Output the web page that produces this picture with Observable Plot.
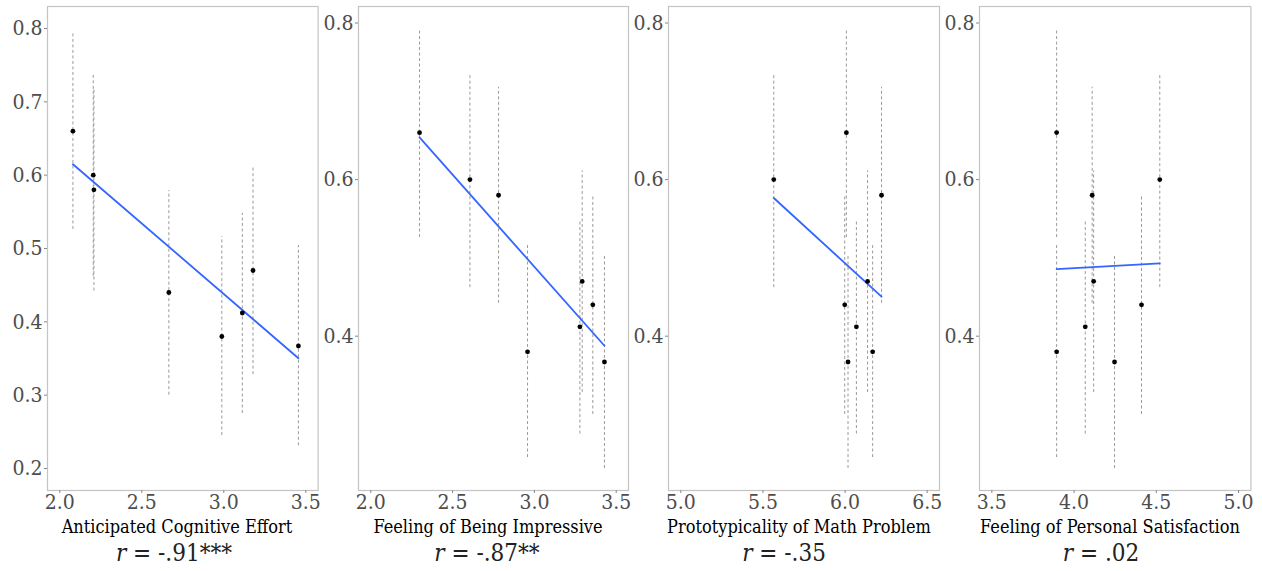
<!DOCTYPE html>
<html>
<head>
<meta charset="utf-8">
<script src="https://cdn.jsdelivr.net/npm/d3@7"></script>
<script src="https://cdn.jsdelivr.net/npm/@observablehq/plot@0.6"></script>
<style>
  html, body { margin: 0; padding: 0; background: #fff; }
  #chart { position: relative; width: 1263px; height: 571px; overflow: hidden; }
  #chart svg { position: absolute; top: 0; overflow: visible; }
  .serif { font-family: "DejaVu Serif Condensed", "DejaVu Serif", serif; font-stretch: condensed; }
  .xtitle { position: absolute; top: 515px; font-size: 18px; color: #000; white-space: nowrap; transform: translateX(-50%); line-height: 24px; }
  .rlab { position: absolute; top: 538px; font-size: 24px; color: #222; white-space: nowrap; transform: translateX(-50%); line-height: 30px; }
</style>
</head>
<body>
<div id="chart"></div>
<script>
// Eight conditions: mean and interval (same in every panel)
const yMean = [0.66, 0.60, 0.58, 0.44, 0.38, 0.412, 0.47, 0.367];
const yLow  = [0.526, 0.462, 0.442, 0.300, 0.245, 0.275, 0.328, 0.231];
const yHigh = [0.793, 0.736, 0.718, 0.579, 0.516, 0.548, 0.611, 0.504];

// Predictor values per panel
const xEffort      = [2.080, 2.204, 2.208, 2.665, 2.988, 3.113, 3.178, 3.455];
const xImpressive  = [2.298, 2.606, 2.781, 3.357, 2.958, 3.278, 3.292, 3.428];
const xPrototype   = [6.008, 5.566, 6.222, 5.998, 6.168, 6.069, 6.137, 6.018];
const xSatisfaction= [3.894, 4.521, 4.110, 4.410, 3.894, 4.068, 4.119, 4.246];

const panelTitles = ["Anticipated Cognitive Effort", "Feeling of Being Impressive",
                     "Prototypicality of Math Problem", "Feeling of Personal Satisfaction"];
const rLabels = ["-.91***", "-.87**", "-.35", ".02"];

const xTicks = [[2.0, 2.5, 3.0, 3.5], [2.0, 2.5, 3.0, 3.5], [5.0, 5.5, 6.0, 6.5], [3.5, 4.0, 4.5, 5.0]];
const xLimits = [[2.0, 3.5], [2.0, 3.5], [5.0, 6.5], [3.5, 5.0]];
const yTicks = [[0.2, 0.3, 0.4, 0.5, 0.6, 0.7, 0.8], [0.4, 0.6, 0.8], [0.4, 0.6, 0.8], [0.4, 0.6, 0.8]];

const xs = [xEffort, xImpressive, xPrototype, xSatisfaction];

// layout
const frameLeft = [46.7, 358.3, 668.3, 979.3];
const frameWidth = [270.6, 270, 271, 271.4];
const titleCenter = [177, 488, 799, 1110];
const rCenter = [174, 487, 784, 1101];
const ML = 45, MR = 16, MT = 6, H = 520, MB = H - 490;

const expand = ([a, b]) => { const r = b - a; return [a - 0.05 * r, b + 0.05 * r]; };
const yAutoRange = expand([d3.min(yLow), d3.max(yHigh)]);
const yDomains = [expand([0.2, 0.8]), yAutoRange, yAutoRange, yAutoRange];

const fmt = d3.format(".1f");
const chart = document.getElementById("chart");
const FONT = "'DejaVu Serif Condensed', 'DejaVu Serif', serif";

xs.forEach((xv, i) => {
  const data = yMean.map((m, k) => ({x: xv[k], y: m, lo: yLow[k], hi: yHigh[k]}));
  const svg = Plot.plot({
    width: ML + frameWidth[i] + MR,
    height: H,
    marginLeft: ML, marginRight: MR, marginTop: MT, marginBottom: MB,
    style: {background: "transparent", fontFamily: FONT, fontStretch: "condensed", overflow: "visible"},
    x: {domain: expand(xLimits[i])},
    y: {domain: yDomains[i]},
    marks: [
      Plot.ruleX(data, {x: "x", y1: "lo", y2: "hi", stroke: "#9a9a9a", strokeWidth: 1, strokeDasharray: "3,2.5"}),
      Plot.linearRegressionY(data, {x: "x", y: "y", ci: 0, stroke: "#3366ff", strokeWidth: 1.8}),
      Plot.dot(data, {x: "x", y: "y", r: 2.4, fill: "black", stroke: "none"}),
      Plot.frame({stroke: "#c4c4c4", strokeWidth: 1.2}),
      Plot.axisX({ticks: xTicks[i], tickFormat: fmt, tickSize: 3, tickPadding: 1, label: null,
                  fontSize: 21, color: "#4d4d4d", stroke: "#888"}),
      Plot.axisY({ticks: yTicks[i], tickFormat: fmt, tickSize: 3, tickPadding: 2, label: null,
                  fontSize: 21, color: "#4d4d4d", stroke: "#888"})
    ]
  });
  svg.style.left = (frameLeft[i] - ML) + "px";
  chart.appendChild(svg);

  const t = document.createElement("div");
  t.className = "xtitle serif";
  t.style.left = titleCenter[i] + "px";
  t.textContent = panelTitles[i];
  chart.appendChild(t);

  const r = document.createElement("div");
  r.className = "rlab serif";
  r.style.left = rCenter[i] + "px";
  r.innerHTML = "<i>r</i> = " + rLabels[i];
  chart.appendChild(r);
});
</script>
</body>
</html>
